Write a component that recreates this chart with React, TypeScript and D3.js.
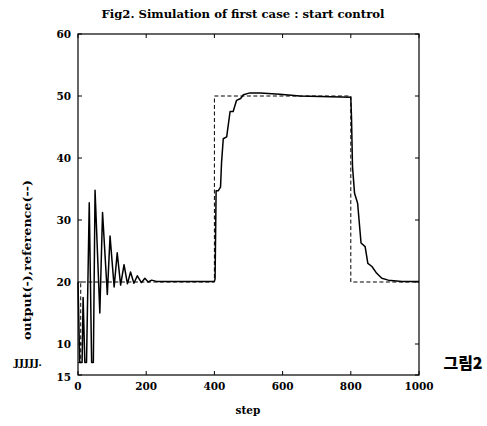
import React from "react";
import * as d3 from "d3";

const title = "Fig2. Simulation of first case : start control";
const yLabel = "output(-),reference(--)";
const xLabel = "step";
const sideNote = "그림2";
const scanNote = "JJJJJ.";

const xTicks = [0, 200, 400, 600, 800, 1000];
const yTicks = [5, 10, 20, 30, 40, 50, 60];
const yTickLabels = ["15", "10", "20", "30", "40", "50", "60"];

const refSteps = [0, 8, 8, 400, 400, 800, 800, 1000];
const refValues = [7, 7, 20, 20, 50, 50, 20, 20];

const outSteps = [0, 5, 12, 15, 20, 25, 33, 40, 45, 50, 64, 72, 86, 94, 106, 115, 125, 135, 145, 154, 164, 174, 186, 196, 206, 216, 230, 400, 402, 405, 411, 418, 421, 426, 436, 446, 455, 465, 477, 485, 504, 534, 592, 650, 800, 802, 805, 811, 820, 830, 842, 850, 862, 876, 891, 910, 950, 1000];
const outValues = [20, 7, 7, 17.5, 7, 7, 32.8, 7, 7, 34.8, 15, 31.2, 18, 27.4, 19.2, 24.7, 19.5, 22.8, 19.7, 21.6, 19.8, 21, 19.9, 20.6, 20, 20.3, 20.1, 20.1, 20.5, 34.7, 34.7, 35.3, 39.3, 43.1, 43.4, 47.5, 47.5, 49.3, 49.6, 50.2, 50.5, 50.5, 50.3, 50, 49.8, 46.7, 38.6, 34.3, 32.7, 26.3, 25.7, 23, 22.5, 21.4, 20.6, 20.3, 20.1, 20.1];

const W = 487;
const H = 426;
const left = 78;
const right = 419;
const top = 34;
const bottom = 375;

export default function App() {
  const x = d3.scaleLinear().domain([0, 1000]).range([left, right]);
  const y = d3.scaleLinear().domain([5, 60]).range([bottom, top]);
  const line = d3
    .line<[number, number]>()
    .x((d) => x(d[0]))
    .y((d) => y(d[1]));
  const refPts = refSteps.map((s, i) => [s, refValues[i]] as [number, number]);
  const outPts = outSteps.map((s, i) => [s, outValues[i]] as [number, number]);
  const font = "'DejaVu Serif', 'Liberation Serif', serif";
  const tick = 4;

  return (
    <svg
      width={W}
      height={H}
      style={{ position: "absolute", left: 0, top: 0, background: "#fff" }}
    >
      <rect x={0} y={0} width={W} height={H} fill="#fff" />
      <text
        x={243}
        y={18}
        textAnchor="middle"
        fontFamily={font}
        fontWeight="bold"
        fontSize={10.5}
        textLength={283}
        lengthAdjust="spacingAndGlyphs"
      >
        {title}
      </text>
      <path d={line(refPts) || ""} fill="none" stroke="#000" strokeWidth={1} strokeDasharray="4,2.5" />
      <path d={line(outPts) || ""} fill="none" stroke="#000" strokeWidth={1.5} strokeLinejoin="round" />
      <rect x={left} y={top} width={right - left} height={bottom - top} fill="none" stroke="#000" strokeWidth={1.2} />
      {xTicks.map((t) => (
        <g key={"x" + t}>
          <line x1={x(t)} x2={x(t)} y1={bottom} y2={bottom - tick} stroke="#000" strokeWidth={1} />
          <line x1={x(t)} x2={x(t)} y1={top} y2={top + tick} stroke="#000" strokeWidth={1} />
          <text x={x(t)} y={390} textAnchor="middle" fontFamily={font} fontWeight="bold" fontSize={10.5}>
            {t}
          </text>
        </g>
      ))}
      {yTicks.map((t, i) => (
        <g key={"y" + t}>
          <line x1={left} x2={left + tick} y1={y(t)} y2={y(t)} stroke="#000" strokeWidth={1} />
          <line x1={right} x2={right - tick} y1={y(t)} y2={y(t)} stroke="#000" strokeWidth={1} />
          <text
            x={71}
            y={y(t) + (i === 0 ? 6 : 4)}
            textAnchor="end"
            fontFamily={font}
            fontWeight="bold"
            fontSize={10.5}
          >
            {yTickLabels[i]}
          </text>
        </g>
      ))}
      <text
        transform={`translate(31,${260}) rotate(-90)`}
        textAnchor="middle"
        fontFamily={font}
        fontWeight="bold"
        fontSize={10.5}
        textLength={160}
        lengthAdjust="spacingAndGlyphs"
      >
        {yLabel}
      </text>
      <text x={248} y={414} textAnchor="middle" fontFamily={font} fontWeight="bold" fontSize={10.5}>
        {xLabel}
      </text>
      <text
        x={28}
        y={366}
        textAnchor="middle"
        fontFamily={font}
        fontWeight="bold"
        fontSize={9}
        textLength={28}
        lengthAdjust="spacingAndGlyphs"
      >
        {scanNote}
      </text>
      <text
        x={463}
        y={369}
        textAnchor="middle"
        fontFamily="'Noto Sans CJK KR', sans-serif"
        fontWeight={900}
        fontSize={16}
      >
        {sideNote}
      </text>
    </svg>
  );
}
